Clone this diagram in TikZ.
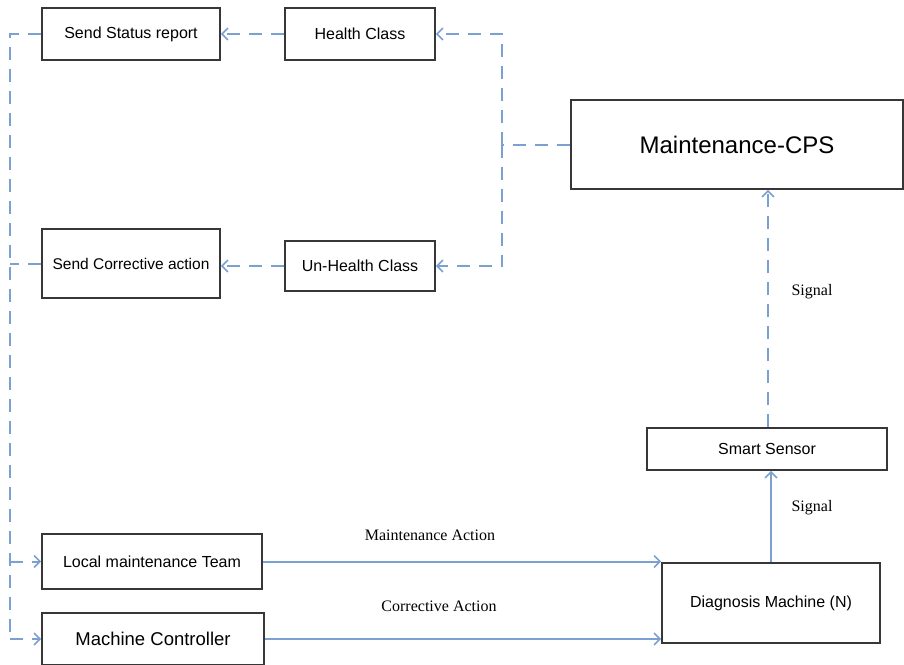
\documentclass[tikz,border=0pt]{standalone}
\usepackage{fontspec}
\setmainfont{Liberation Sans}
\newfontfamily\labelfont{Liberation Serif}
\usetikzlibrary{arrows.meta}
\definecolor{linkblue}{RGB}{125,160,210}
\definecolor{boxgray}{RGB}{55,55,55}
\tikzset{
  box/.style={draw=boxgray, line width=1.6pt, fill=white, inner sep=2pt, font=\fontsize{16}{18}\selectfont},
  dashlink/.style={draw=linkblue, line width=2pt, dash pattern=on 13pt off 9pt},
  solidlink/.style={draw=linkblue, line width=2pt},
  tip/.style={-{Straight Barb[length=6pt,width=12pt,line width=1.6pt]}},
  lbl/.style={font=\labelfont\fontsize{16}{18}\selectfont, inner sep=1pt}
}
\begin{document}
\begin{tikzpicture}[x=1pt,y=-1pt]
\useasboundingbox[fill=white] (0,0) rectangle (904,664);
% boxes
\node[box, minimum width=178pt, minimum height=52pt] (status) at (131,34) {Send Status report};
\node[box, minimum width=150pt, minimum height=52pt] (health) at (360,34) {Health Class};
\node[box, minimum width=332pt, minimum height=89pt, font=\fontsize{24}{28}\selectfont] (cps) at (737,144.5) {Maintenance-CPS};
\node[box, minimum width=178pt, minimum height=69pt, font=\fontsize{15.5}{18}\selectfont] (corr) at (131,263.5) {Send Corrective action};
\node[box, minimum width=150pt, minimum height=50pt] (unhealth) at (360,266) {Un-Health Class};
\node[box, minimum width=240pt, minimum height=42pt] (sensor) at (767,449) {Smart Sensor};
\node[box, minimum width=220pt, minimum height=55pt] (ltm) at (152,561.5) {Local maintenance Team};
\node[box, minimum width=222pt, minimum height=52pt, font=\fontsize{18.5}{21}\selectfont] (mc) at (153,639) {Machine Controller};
\node[box, minimum width=218pt, minimum height=80pt] (diag) at (771,603) {Diagnosis Machine (N)};
% junctions
\coordinate (jr) at (502,144.5);
\coordinate (jl) at (10,639);
% dashed tree from CPS
\draw[dashlink] (cps.west) -- (jr);
\draw[dashlink,tip] (jr) |- (health.east);
\draw[dashlink,tip] (jr) |- (unhealth.east);
\draw[dashlink,tip] (health.west) -- (status.east);
\draw[dashlink,tip] (unhealth.west) -- (corr.east |- unhealth.west);
% left trunk
\draw[dashlink] (status.west) -| (jl);
\draw[dashlink] (corr.west) -- (corr.west -| jl);
\draw[dashlink,tip] (ltm.west -| jl) -- (ltm.west);
\draw[dashlink,tip] (jl) -- (mc.west);
% sensor links
\draw[dashlink,tip] (sensor.north -| 768,0) -- (cps.south -| 768,0);
\draw[solidlink,tip] (diag.north) -- (diag.north |- sensor.south);
% machine links
\draw[solidlink,tip] (ltm.east) -- (ltm.east -| diag.west);
\draw[solidlink,tip] (mc.east) -- (mc.east -| diag.west);
% labels
\node[lbl] (sig1) at (812,292) {Signal};
\node[lbl] (sig2) at (812,508) {Signal};
\node[lbl] (maint) at (430,535) {Maintenance Action};
\node[lbl] (corract) at (439,606) {Corrective Action};
\end{tikzpicture}
\end{document}
